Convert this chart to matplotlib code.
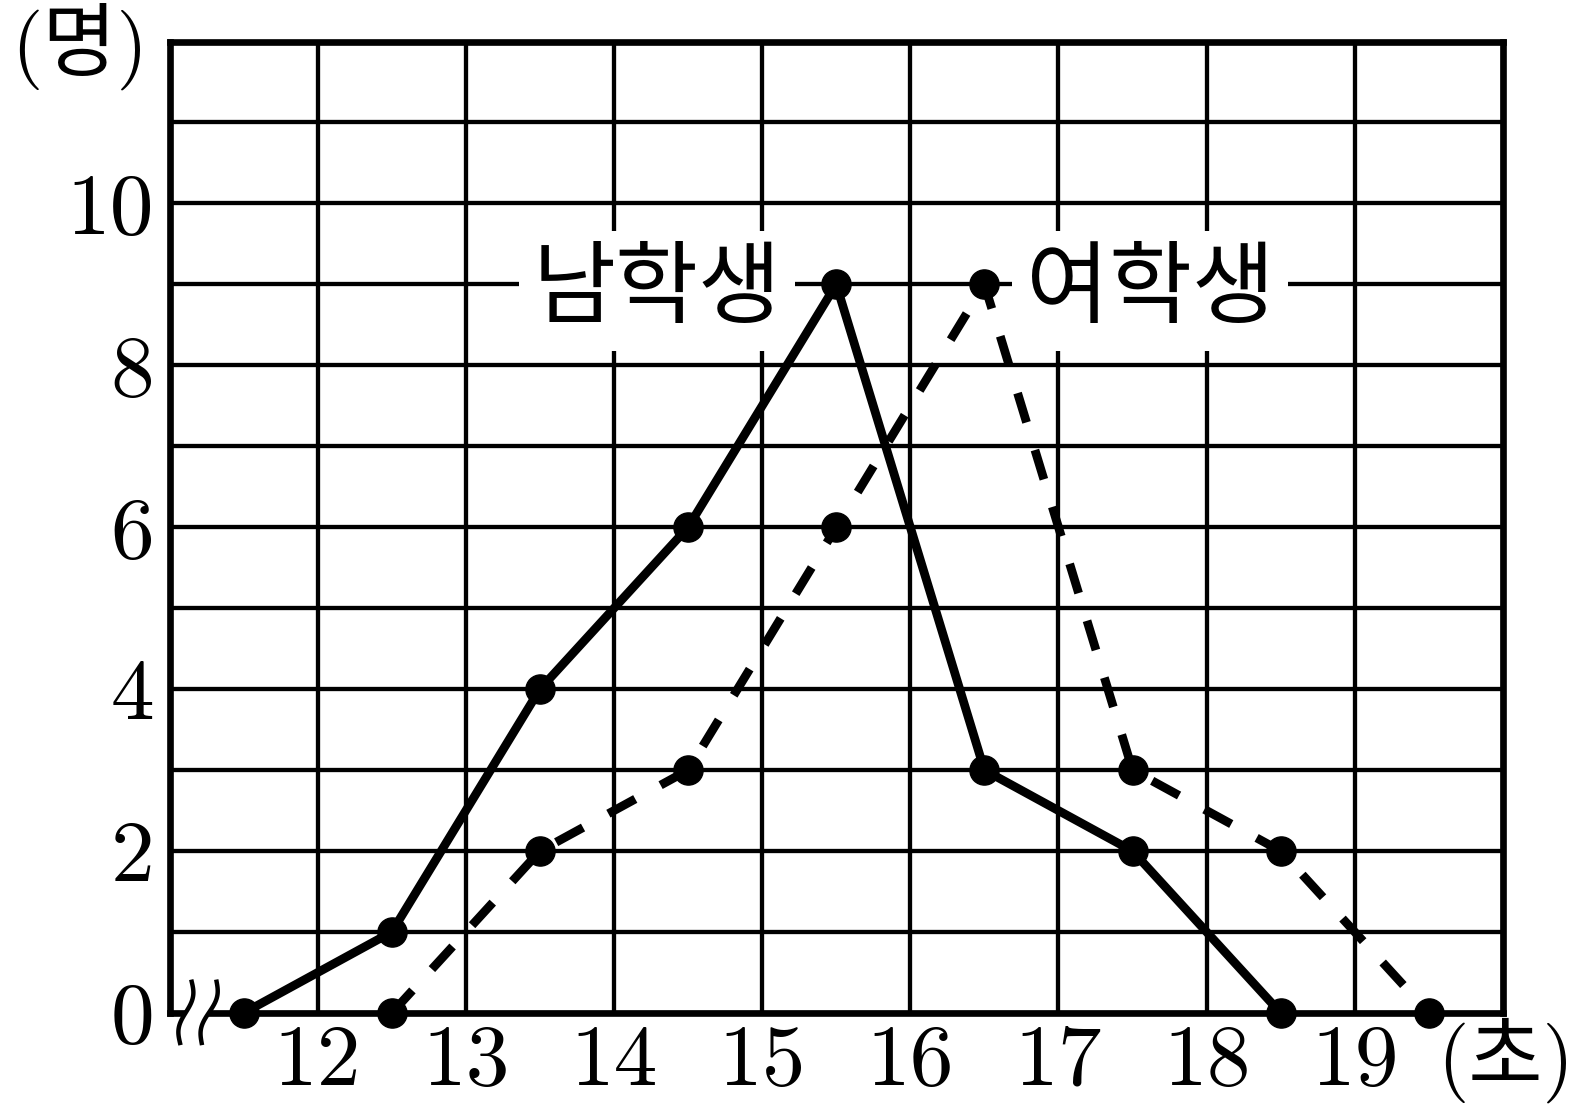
import numpy as np
import matplotlib
matplotlib.use('Agg')
import matplotlib.pyplot as plt

# datos (puntos medios de cada clase, en segundos)
boys_x = [11.5, 12.5, 13.5, 14.5, 15.5, 16.5, 17.5, 18.5]
boys_n = [0, 1, 4, 6, 9, 3, 2, 0]
girls_x = [12.5, 13.5, 14.5, 15.5, 16.5, 17.5, 18.5, 19.5]
girls_n = [0, 2, 3, 6, 9, 3, 2, 0]

x_ticks = [11, 12, 13, 14, 15, 16, 17, 18, 19, 20]
x_labels = ['', '12', '13', '14', '15', '16', '17', '18', '19', '']
y_ticks = [0, 1, 2, 3, 4, 5, 6, 7, 8, 9, 10, 11, 12]
y_labels = ['0', '', '2', '', '4', '', '6', '', '8', '', '10', '', '']

KR = 'Noto Sans CJK KR'
NUM = 'cmr10'

W, H = 1585, 1115
fig = plt.figure(figsize=(W / 100, H / 100), dpi=100)
L, R, T, B = 169.5, 1503, 41.5, 1013
ax = fig.add_axes([L / W, (H - B) / H, (R - L) / W, (B - T) / H])

ax.set_xlim(11, 20)
ax.set_ylim(0, 12)
ax.set_xticks(x_ticks)
ax.set_xticklabels(x_labels, fontfamily=NUM, fontsize=63)
ax.set_yticks(y_ticks)
ax.set_yticklabels(y_labels, fontfamily=NUM, fontsize=63)
ax.tick_params(axis='x', length=0, pad=8)
ax.tick_params(axis='y', length=0, pad=11)

ax.set_axisbelow(True)
ax.grid(True, color='black', lw=3.1)
for s in ax.spines.values():
    s.set_linewidth(4.8)
    s.set_capstyle('projecting')

# etiquetas de las series, con fondo blanco sobre la grilla
box = dict(boxstyle='square,pad=0.15', fc='white', ec='none')
ax.text(14.29, 8.92, '남학생', ha='center', va='center', fontsize=65,
        family=KR, bbox=box, zorder=3)
ax.text(17.62, 8.92, '여학생', ha='center', va='center', fontsize=65,
        family=KR, bbox=box, zorder=3)

ax.plot(boys_x, boys_n, color='black', lw=6.3, marker='o', ms=21,
        clip_on=False, zorder=5, solid_joinstyle='miter')
ax.plot(girls_x, girls_n, color='black', lw=6.3, marker='o', ms=21,
        linestyle=(0, (3.5, 3.3)), clip_on=False, zorder=5)

# simbolo de corte del eje x
t = np.linspace(0, 1, 60)
yy = 0.386 + (-0.37 - 0.386) * t
waves = []
for xt, xb in [(11.15, 11.071), (11.318, 11.217)]:
    xx = xt + (xb - xt) * t + 0.028 * np.sin(2 * np.pi * t)
    waves.append(xx)
m = (yy > -0.12) & (yy < 0.12)
ax.fill_betweenx(yy[m], waves[0][m], waves[1][m], color='white',
                 lw=0, clip_on=False, zorder=3)
for xx in waves:
    ax.plot(xx, yy, color='black', lw=3.2, clip_on=False, zorder=4)

fig.text(80 / W, (H - 46) / H, '(명)', ha='center', va='center',
         fontsize=58, family=[NUM, KR])
fig.text(1506 / W, (H - 1060) / H, '(초)', ha='center', va='center',
         fontsize=58, family=[NUM, KR])

fig.savefig('out.png', dpi=100)
